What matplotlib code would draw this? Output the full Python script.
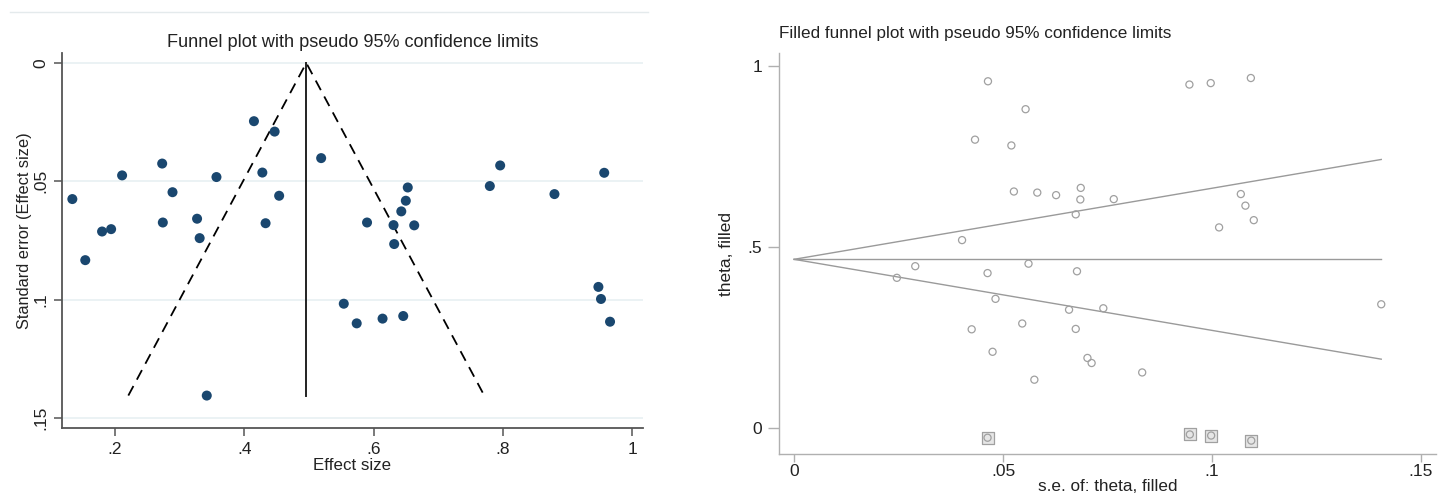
import matplotlib
matplotlib.use("Agg")
import matplotlib.pyplot as plt
from matplotlib.lines import Line2D

plt.rcParams['font.family'] = ['Liberation Sans', 'DejaVu Sans']

# Observed studies: effect size and standard error
effect = [0.134, 0.154, 0.180, 0.194, 0.211, 0.273, 0.274, 0.289, 0.327, 0.331,
          0.342, 0.357, 0.415, 0.428, 0.433, 0.447, 0.454, 0.519, 0.554, 0.574,
          0.590, 0.614, 0.631, 0.632, 0.643, 0.646, 0.650, 0.653, 0.663, 0.780,
          0.796, 0.880, 0.948, 0.952, 0.957, 0.966]
se = [0.0575, 0.0833, 0.0712, 0.0702, 0.0475, 0.0425, 0.0674, 0.0546, 0.0658, 0.0740,
      0.1405, 0.0482, 0.0246, 0.0463, 0.0677, 0.0290, 0.0561, 0.0402, 0.1017, 0.1100,
      0.0674, 0.1080, 0.0685, 0.0765, 0.0627, 0.1069, 0.0582, 0.0526, 0.0686, 0.0520,
      0.0433, 0.0554, 0.0946, 0.0997, 0.0464, 0.1093]

# Imputed (filled) studies
filled_se = [0.0463, 0.0947, 0.0998, 0.1094]
filled_theta = [-0.026, -0.017, -0.020, -0.034]

# Pooled estimates and funnel extent
theta_obs = 0.496
theta_fill = 0.466
se_max = 0.1405
z = 1.96

left_xticks = [0.2, 0.4, 0.6, 0.8, 1.0]
left_xticklabels = ['.2', '.4', '.6', '.8', '1']
left_yticks = [0, 0.05, 0.10, 0.15]
left_yticklabels = ['0', '.05', '.1', '.15']
right_xticks = [0, 0.05, 0.10, 0.15]
right_xticklabels = ['0', '.05', '.1', '.15']
right_yticks = [0, 0.5, 1]
right_yticklabels = ['0', '.5', '1']

W, H = 1453, 498
fig = plt.figure(figsize=(W / 100, H / 100), dpi=100)

def fx(px):
    return px / W

def fy(py):
    return 1 - py / H

# faint top border line of left graph region
fig.add_artist(Line2D([fx(10), fx(648)], [fy(12), fy(12)], color='#e4eaec', lw=1.0))

# ---------------- Left panel ----------------
ax1 = fig.add_axes([fx(62), fy(428), fx(643) - fx(62), fy(53) - fy(428)])
ax1.set_xlim(0.118, 1.017)
ax1.set_ylim(0.1542, -0.0042)
for yv in left_yticks:
    ax1.axhline(yv, color='#e8f0f2', lw=1.2, zorder=0)
ax1.plot([theta_obs - z * se_max, theta_obs, theta_obs + z * se_max],
         [se_max, 0, se_max], color='black', lw=1.3, ls=(0, (6, 4)), zorder=2)
ax1.plot([theta_obs, theta_obs], [0, se_max], color='#222222', lw=1.4, zorder=2)
ax1.scatter(effect, se, s=52, color='#1a476f', edgecolors='none', zorder=3)
for s in ['top', 'right']:
    ax1.spines[s].set_visible(False)
for s in ['left', 'bottom']:
    ax1.spines[s].set_color('#555555')
    ax1.spines[s].set_linewidth(1.3)
ax1.set_xticks(left_xticks)
ax1.set_xticklabels(left_xticklabels)
ax1.set_yticks(left_yticks)
ax1.set_yticklabels(left_yticklabels, rotation=90, va='center')
ax1.tick_params(axis='both', direction='out', length=6, width=1.1, color='#555555',
                labelsize=12.5, labelcolor='#222222', pad=4)
ax1.set_xlabel('Effect size', fontsize=12.2, color='#222222', labelpad=1)
ax1.set_ylabel('Standard error (Effect size)', fontsize=11.8, color='#222222')
ax1.yaxis.set_label_coords(-0.0516, 0.525)
ax1.set_title('Funnel plot with pseudo 95% confidence limits', fontsize=13.1,
              color='#222222', pad=4)

# ---------------- Right panel ----------------
ax2 = fig.add_axes([fx(779), fy(454), fx(1436) - fx(779), fy(53) - fy(454)])
ax2.set_xlim(-0.0036, 0.1536)
ax2.set_ylim(-0.0709, 1.035)
lc = '#9a9a9a'
ax2.plot([0, se_max], [theta_fill, theta_fill + z * se_max], color=lc, lw=1.0)
ax2.plot([0, se_max], [theta_fill, theta_fill], color=lc, lw=1.0)
ax2.plot([0, se_max], [theta_fill, theta_fill - z * se_max], color=lc, lw=1.0)
ax2.scatter(se, effect, s=26, facecolors='none', edgecolors='#a0a0a0', linewidths=0.9, zorder=3)
ax2.scatter(filled_se, filled_theta, s=70, marker='s', facecolors='#e6e6e6',
            edgecolors='#a0a0a0', linewidths=0.9, zorder=3)
ax2.scatter(filled_se, filled_theta, s=26, facecolors='none', edgecolors='#a0a0a0',
            linewidths=0.9, zorder=4)
for s in ['top', 'right']:
    ax2.spines[s].set_visible(False)
for s in ['left', 'bottom']:
    ax2.spines[s].set_color('#b0b0b0')
    ax2.spines[s].set_linewidth(1.0)
ax2.set_xticks(right_xticks)
ax2.set_xticklabels(right_xticklabels)
ax2.set_yticks(right_yticks)
ax2.set_yticklabels(right_yticklabels)
ax2.tick_params(axis='x', direction='out', length=6, width=1.0, color='#b0b0b0',
                labelsize=12.5, labelcolor='#222222', pad=1.5)
ax2.tick_params(axis='y', direction='out', length=8, width=1.0, color='#b0b0b0',
                labelsize=12.5, labelcolor='#222222', pad=4)
ax2.set_xlabel('s.e. of: theta, filled', fontsize=12.3, color='#222222', labelpad=0)
ax2.set_ylabel('theta, filled', fontsize=12.5, color='#222222', labelpad=10)
ax2.set_title('Filled funnel plot with pseudo 95% confidence limits', fontsize=12.3,
              color='#222222', loc='left', x=0.0, pad=11)

fig.savefig('out.png', dpi=100, facecolor='white')
